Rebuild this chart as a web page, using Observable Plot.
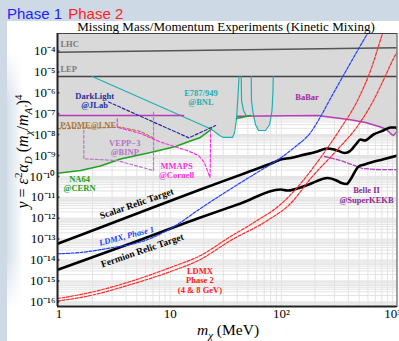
<!DOCTYPE html>
<html>
<head>
<meta charset="utf-8">
<script src="https://cdn.jsdelivr.net/npm/d3@7"></script>
<script src="https://cdn.jsdelivr.net/npm/@observablehq/plot@0.6"></script>
<style>
  html, body { margin:0; padding:0; }
  body { width:399px; height:341px; overflow:hidden; background:#cdd9e5; position:relative; }
  #phase { position:absolute; left:7px; top:5px; font:15px 'Liberation Sans', Arial, sans-serif; white-space:nowrap; }
  #panel { position:absolute; left:7px; top:21px; width:392px; height:320px; background:#fff; }
  #shade { position:absolute; left:7px; top:50px; width:16px; height:260px;
           background:linear-gradient(to right, rgba(200,213,227,0.75), rgba(255,255,255,0));
           -webkit-mask-image:linear-gradient(to bottom, transparent, #000 20%, #000 80%, transparent);
           mask-image:linear-gradient(to bottom, transparent, #000 20%, #000 80%, transparent); }
  #chart { position:absolute; left:7px; top:21px; }
</style>
</head>
<body>
<div id="phase"><span style="color:#1e1eff">Phase 1</span> <span style="color:#ff1e1e;margin-left:2px">Phase 2</span></div>
<div id="panel"></div>
<div id="shade"></div>
<div id="chart"></div>
<script>
// ---- scale extents (MeV, y) ----
const xDomain = [0.969, 1095];
const yDomain = [5.96e-17, 6.87e-4];
const xTicks = [1, 10, 100, 1000];
const yTicks = [1e-4,1e-5,1e-6,1e-7,1e-8,1e-9,1e-10,1e-11,1e-12,1e-13,1e-14,1e-15,1e-16];

// ---- curves: [m_chi (MeV), y] ----
const lhc = [[0.97, 8.8e-5], [1100, 1.42e-4]];
const lep = [[0.97, 6.0e-6], [1100, 6.0e-6]];
const e949A = [[1.99,6.0e-6],[23.0,1.9e-8],[25.6,1.26e-8],[28.3,8.6e-9],[30.2,7.3e-9],[36.3,7.3e-9],[37.9,1.26e-8],[39.5,5.9e-8],[40.7,7.4e-7],[41.6,6.0e-6]];
const e949B = [[43.5,6.0e-6],[43.8,4.3e-7],[45.6,1.42e-7],[48.6,7.3e-8]];
const e949C = [[53.5,6.0e-6],[53.8,4.3e-7],[55.5,1.14e-7],[58.5,3.0e-8],[62.3,1.57e-8],[71.9,1.57e-8],[78.2,3.0e-8],[82.3,1.42e-7],[84.0,1.29e-6],[84.4,6.0e-6]];
const na64A = [[0.97,1.42e-10],[1.56,1.91e-10],[2.36,3.15e-10],[3.57,6.8e-10],[6.65,1.39e-9],[11.2,2.7e-9],[14.3,4.4e-9],[18.7,7.3e-9],[23.5,1.85e-8]];
const na64B = [[39.5,5.9e-8],[45.6,6.95e-8],[52.7,8.2e-8]];
const babarA = [[0.97,8.2e-8],[13.2,8.2e-8]];
const babarB = [[40.3,7.6e-8],[211,8.2e-8],[418,5.1e-8],[570,3.8e-8],[778,2.31e-8],[881,1.75e-8],[977,1.01e-8],[1019,9.1e-9],[1100,1.45e-8]];
const excludedFloor = [[0.97,1.42e-10],[1.56,1.91e-10],[2.36,3.15e-10],[3.57,6.8e-10],[6.65,1.39e-9],[11.2,2.7e-9],[14.3,4.4e-9],[18.7,7.3e-9],[23.0,1.9e-8],[25.6,1.26e-8],[28.3,8.6e-9],[30.2,7.3e-9],[36.3,7.3e-9],[37.9,1.26e-8],[39.5,5.9e-8],[45.6,6.95e-8],[52.7,8.0e-8],[56.5,7.8e-8],[58.5,3.0e-8],[62.3,1.57e-8],[71.9,1.57e-8],[78.2,3.0e-8],[80.5,7.8e-8],[211,8.2e-8],[418,5.1e-8],[570,3.8e-8],[778,2.31e-8],[881,1.75e-8],[977,1.01e-8],[1019,9.1e-9],[1100,1.45e-8]];
const padme = [[0.97,1.9e-8],[2.36,2.11e-8],[3.57,2.26e-8],[5.41,1.41e-8],[6.65,8.1e-9],[7.08,7.0e-9]];
const vepp = [[7.08,1.18e-7],[7.08,1.91e-10],[3.29,5.8e-10],[1.67,6.95e-10],[1.67,1.96e-8]];
const mmaps = [[3.34,5.7e-8],[3.34,2.26e-8],[5.41,1.13e-8],[8.18,4.4e-9],[14.2,1.73e-9],[18.0,1.0e-9],[20.3,4.6e-10],[21.9,1.54e-10],[22.8,8.9e-11],[23.0,1.0e-9],[23.0,1.41e-8]];
const darklight = [[2.79,3.63e-7],[14.7,7.0e-9],[25.6,2.72e-8]];
const belle2 = [[244,8.95e-10],[340,5.8e-10],[464,3.15e-10],[536,2.39e-10],[702,2.14e-10],[1107,2.1e-10]];
const scalarRelic = [[0.97,6.0e-14],[4.40,1.27e-12],[18.7,2.36e-11],[47.6,1.46e-10],[84.9,4.6e-10],[98.2,6.4e-10],[121,7.6e-10],[149,1.0e-9],[203,1.47e-9],[260,2.16e-9],[320,1.73e-9],[369,1.32e-9],[401,1.47e-9],[436,2.16e-9],[474,3.75e-9],[514,5.8e-9],[559,5.2e-9],[673,1.01e-8],[828,1.57e-8],[957,2.19e-8],[1062,2.19e-8],[1130,1.57e-8]];
const fermionRelic = [[0.97,3.4e-15],[4.40,6.15e-14],[18.7,1.08e-12],[42.9,5.05e-12],[98.2,2.36e-11],[113,2.11e-11],[172,3.88e-11],[260,8.4e-11],[313,6.4e-11],[347,4.8e-11],[385,4.3e-11],[418,7.1e-11],[454,1.54e-10],[494,2.98e-10],[559,3.7e-10],[660,4.9e-10],[812,6.4e-10],[1107,1.0e-9]];
const ldmx1 = [[0.97,1.98e-14],[1.56,2.29e-14],[2.90,3.75e-14],[4.40,5.5e-14],[6.65,1.07e-13],[11.2,4.5e-13],[18.7,2.91e-12],[34.9,2.5e-11],[58.5,1.38e-10],[98.2,7.6e-10],[134,2.7e-9],[183,1.26e-8],[225,7.3e-8],[276,5.3e-7],[401,1.81e-5],[595,6.9e-4],[633,1.19e-3]];
const ldmx2a = [[0.97,1.44e-16],[1.92,2.8e-16],[4.40,9.4e-16],[10.06,4.4e-15],[18.7,1.64e-14],[34.9,1.33e-13],[58.5,6.95e-13],[98.2,4.53e-12],[149,4.57e-11],[225,8.0e-10],[340,1.96e-8],[484,4.3e-7],[633,1.17e-5],[812,6.9e-4],[846,1.33e-3]];
const ldmx2b = [[0.97,1.09e-16],[1.92,2.0e-16],[4.40,6.7e-16],[10.06,2.8e-15],[18.7,1.06e-14],[34.9,8.6e-14],[75.0,7.8e-13],[121,5.05e-12],[183,7.9e-11],[313,1.73e-9],[474,2.19e-8],[673,4.3e-7],[864,6.7e-6],[1019,4.4e-5],[1181,1.64e-4]];

// ---- labels ----
const edgeLabels = [{text:"LHC", x:1.03, y:2.05e-4}, {text:"LEP", x:1.03, y:1.30e-5}];
const expLabels = [
  {text:"DarkLight\n@JLab", x:2.09, y:4.4e-7, color:"#2b2b9e"},
  {text:"E787/949\n@BNL", x:18.9, y:5.7e-7, color:"#1fb0b0"},
  {text:"BaBar", x:170, y:6.0e-7, color:"#a526a5"},
  {text:"PADME@LNF", x:1.82, y:3.0e-8, color:"#b07838"},
  {text:"VEPP\u22123\n@BINP", x:3.9, y:2.3e-9, color:"#b474c8"},
  {text:"MMAPS\n@Cornell", x:11.4, y:1.9e-10, color:"#ff33dd"},
  {text:"NA64\n@CERN", x:1.53, y:4.4e-11, color:"#22a022"},
  {text:"Belle II\n@SuperKEKB", x:582, y:1.29e-11, color:"#8f2a90"},
  {text:"LDMX\nPhase 2\n(4 & 8 GeV)", x:18.5, y:1.05e-15, color:"#ff2020"}
];
const relicLabels = [
  {text:"Scalar Relic Target", x:4.98, y:5.0e-12, angle:-19},
  {text:"Fermion Relic Target", x:5.6, y:2.85e-14, angle:-19}
];
const phase1Label = [{text:"LDMX, Phase 1", x:4.05, y:1.4e-13, angle:-14.5}];

// grid values (1..9 x 10^k)
const xGrid = [], yGrid = [];
for (let k = 0; k <= 3; k++) for (let d = 1; d <= 9; d++) { const v = d * Math.pow(10, k); if (v >= xDomain[0] && v <= xDomain[1]) xGrid.push(v); }
for (let k = -17; k <= -4; k++) for (let d = 1; d <= 9; d++) { const v = d * Math.pow(10, k); if (v >= yDomain[0] && v <= yDomain[1]) yGrid.push(v); }

const supMap = {"-":"\u207B","0":"\u2070","1":"\u00B9","2":"\u00B2","3":"\u00B3","4":"\u2074","5":"\u2075","6":"\u2076","7":"\u2077","8":"\u2078","9":"\u2079"};
const fmt = v => { const e = Math.round(Math.log10(v)); if (e === 0) return "1"; if (e === 1) return "10"; return "10" + String(e).split("").map(c => supMap[c]).join(""); };

const X = d => d[0], Y = d => d[1];
const serif = "'Liberation Serif', 'Times New Roman', serif";
const line = (data, stroke, opts = {}) => Plot.line(data, {x: X, y: Y, stroke, strokeWidth: 1.2, clip: true, ...opts});

const plot = Plot.plot({
  width: 392, height: 320,
  marginLeft: 50, marginTop: 12, marginRight: 2.5, marginBottom: 35,
  x: {type: "log", domain: xDomain},
  y: {type: "log", domain: yDomain},
  color: {type: "identity"},
  style: {background: "transparent", fontFamily: serif, color: "#000", overflow: "visible"},
  marks: [
    Plot.ruleX(xGrid, {stroke: "#e3e3e3", strokeWidth: 1}),
    Plot.ruleY(yGrid, {stroke: "#e3e3e3", strokeWidth: 1}),
    Plot.areaY(excludedFloor, {x: X, y1: Y, y2: yDomain[1], fill: "#d9d9d9", clip: true}),
    line(lhc, "#555", {strokeWidth: 1.5}),
    line(lep, "#444", {strokeWidth: 1.5}),
    line(e949A, "#1fb0b0"),
    line(e949B, "#1fb0b0"),
    line(e949C, "#1fb0b0"),
    line(babarA, "#b43cb4", {strokeWidth: 1.4}),
    line(babarB, "#b43cb4", {strokeWidth: 1.4}),
    line(na64A, "#1fa01f", {strokeWidth: 1.6}),
    line(na64B, "#1fa01f", {strokeWidth: 1.6}),
    line(padme, "#b07a40", {strokeDasharray: "3,2"}),
    line(vepp, "#b878cc", {strokeDasharray: "3,2"}),
    line(mmaps, "#ff30e0", {strokeDasharray: "3,2"}),
    line(darklight, "#2a2aa8", {strokeDasharray: "3,2"}),
    line(belle2, "#b040c0", {strokeDasharray: "4,2", strokeWidth: 1.3}),
    line(scalarRelic, "#000", {strokeWidth: 2.6, curve: "monotone-x"}),
    line(fermionRelic, "#000", {strokeWidth: 2.6, curve: "monotone-x"}),
    line(ldmx1, "#2040ff", {strokeDasharray: "3,1.5", curve: "monotone-x"}),
    line(ldmx2a, "#ff2a2a", {strokeDasharray: "3,1.5", curve: "monotone-x"}),
    line(ldmx2b, "#ff2a2a", {strokeDasharray: "3,1.5", curve: "monotone-x"}),
    Plot.text(edgeLabels, {x: "x", y: "y", text: "text", fill: "#7a7a7a", fontSize: 8.5, fontWeight: "bold", textAnchor: "start"}),
    Plot.text(expLabels, {x: "x", y: "y", text: "text", fill: "color", fontSize: 8.5, fontWeight: "bold", lineHeight: 1.08}),
    Plot.text(relicLabels, {x: "x", y: "y", text: "text", rotate: "angle", fill: "#000", fontSize: 9.5, fontWeight: "bold"}),
    Plot.text(phase1Label, {x: "x", y: "y", text: "text", rotate: "angle", fill: "#2040ff", fontSize: 8.5, fontWeight: "bold", fontStyle: "italic"}),
    Plot.frame({stroke: "#444", strokeWidth: 1}),
    Plot.ruleX([xDomain[0]], {stroke: "#222", strokeWidth: 2}),
    Plot.ruleY([yDomain[0]], {stroke: "#222", strokeWidth: 2}),
    Plot.dot(yTicks, {y: d => d, frameAnchor: "left", r: 1, fill: "#333", dx: 1}),
    Plot.axisY({ticks: yTicks, tickFormat: fmt, tickSize: 0, tickPadding: 2, fontSize: 13, label: null}),
    Plot.axisX({ticks: xTicks, tickFormat: fmt, tickSize: 0, tickPadding: 2, fontSize: 13, label: null})
  ]
});
document.getElementById("chart").appendChild(plot);

// title and axis labels with sub/superscripts
const svg = d3.select(plot);
svg.append("text").attr("x", 219).attr("y", 9.5).attr("text-anchor", "middle")
  .style("font-family", serif).style("font-size", "13px").attr("fill", "#000")
  .text("Missing Mass/Momentum Experiments (Kinetic Mixing)");

function rich(sel, parts) {
  let shift = 0;
  for (const p of parts) {
    const t = sel.append("tspan").text(p.t);
    const target = p.s === "sup" ? -6 : p.s === "sub" ? 4 : 0;
    if (target !== shift) { t.attr("dy", target - shift); shift = target; }
    if (p.s) t.style("font-size", "11px");
    if (p.i) t.style("font-style", "italic");
  }
}
const yl = svg.append("text").attr("transform", "translate(21,130.5) rotate(-90)")
  .attr("text-anchor", "middle").style("font-family", serif).style("font-size", "16px").attr("fill", "#000");
rich(yl, [{t:"y", i:1},{t:" = "},{t:"\u03B5", i:1},{t:"2", s:"sup"},{t:"\u03B1", i:1},{t:"D", s:"sub", i:1},{t:" ("},{t:"m", i:1},{t:"\u03C7", s:"sub", i:1},{t:"/"},{t:"m", i:1},{t:"A\u2032", s:"sub", i:1},{t:")"},{t:"4", s:"sup"}]);

const xl = svg.append("text").attr("x", 221).attr("y", 313.5).attr("text-anchor", "middle")
  .style("font-family", serif).style("font-size", "15.5px").attr("fill", "#000");
rich(xl, [{t:"m", i:1},{t:"\u03C7", s:"sub", i:1},{t:" (MeV)"}]);
</script>
</body>
</html>
